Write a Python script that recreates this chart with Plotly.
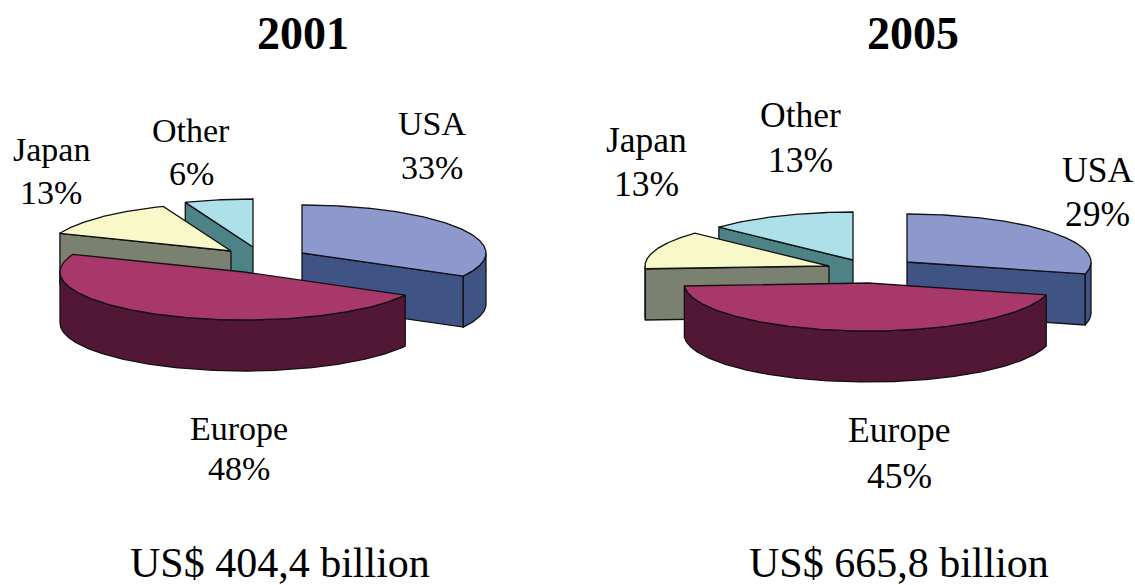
import numpy as np
import plotly.graph_objects as go

# ---- data ----
categories = ["USA", "Europe", "Japan", "Other"]
years = ["2001", "2005"]
shares_2001 = [33, 48, 13, 6]
shares_2005 = [29, 45, 13, 13]
totals = ["US$ 404,4 billion", "US$ 665,8 billion"]

# ---- styling / layout ----
TOP = {"USA": "#8D98CC", "Europe": "#A9386A", "Japan": "#F8F8C8", "Other": "#AEE0EA"}
SIDE = {"USA": "#3F5385", "Europe": "#521734", "Japan": "#7A8170", "Other": "#4D8287"}
DRAW_ORDER = ["Other", "Japan", "USA", "Europe"]
RX, RY, DEPTH = 184, 48, 51
OUTLINE = "#111111"
FONT = "Liberation Serif"

# exploded slice tips, in plot units
TIPS = [
    {"USA": (302, 253), "Europe": (244, 272), "Japan": (231, 251), "Other": (253, 247)},
    {"USA": (907, 262), "Europe": (868, 283), "Japan": (829, 266), "Other": (853, 260)},
]
LABEL_POS = [
    {"USA": (432, 123, 167), "Europe": (239, 428, 468), "Japan": (51, 149, 192), "Other": (191, 130, 173)},
    {"USA": (1097, 170, 214), "Europe": (899, 430, 476), "Japan": (646, 140, 184), "Other": (800, 115, 160)},
]
TITLE_POS = [(303, 33), (913, 33)]
TOTAL_POS = [(280, 563), (899, 563)]
LABEL_SIZE = [34, 35.5]


def rim(tip, a0, a1, dz=0.0):
    t = np.radians(np.linspace(a0, a1, max(2, int(abs(a1 - a0) * 2))))
    return tip[0] + RX * np.sin(t), tip[1] - RY * np.cos(t) + dz


def poly(fig, x, y, color):
    fig.add_trace(go.Scatter(
        x=np.r_[x, x[0]], y=np.r_[y, y[0]], mode="lines", fill="toself",
        fillcolor=color, line=dict(color=OUTLINE, width=1.3, shape="linear"),
        hoverinfo="skip", showlegend=False))


def cut_face(fig, tip, angle, color):
    ex, ey = rim(tip, angle, angle)
    ex, ey = ex[0], ey[0]
    poly(fig, np.array([tip[0], ex, ex, tip[0]]),
         np.array([tip[1], ey, ey + DEPTH, tip[1] + DEPTH]), color)


def draw_slice(fig, name, tip, a0, a1):
    side = SIDE[name]
    # only the cut faces that look toward the viewer
    if np.sin(np.radians(a0)) < -1e-6:
        cut_face(fig, tip, a0, side)
    if np.sin(np.radians(a1)) > 1e-6:
        cut_face(fig, tip, a1, side)
    # visible part of the outer wall
    lo, hi = max(a0, 90), min(a1, 270)
    if hi > lo:
        x, y = rim(tip, lo, hi)
        poly(fig, np.r_[x, x[::-1]], np.r_[y, y[::-1] + DEPTH], side)
    # top face
    x, y = rim(tip, a0, a1)
    poly(fig, np.r_[tip[0], x], np.r_[tip[1], y], TOP[name])


fig = go.Figure()
annotations = []


def text(x, y, s, size, bold=False):
    annotations.append(dict(
        x=x, y=y, xref="x", yref="y", text=f"<b>{s}</b>" if bold else s, showarrow=False,
        xanchor="center", yanchor="middle", font=dict(family=FONT, size=size, color="black")))


for i, shares in enumerate([shares_2001, shares_2005]):
    edges = np.r_[0, np.cumsum(shares)] * 3.6
    span = {c: (edges[k], edges[k + 1]) for k, c in enumerate(categories)}
    for name in DRAW_ORDER:
        draw_slice(fig, name, TIPS[i][name], *span[name])
    for k, name in enumerate(categories):
        lx, ly1, ly2 = LABEL_POS[i][name]
        text(lx, ly1, name, LABEL_SIZE[i])
        text(lx, ly2, f"{shares[k]}%", LABEL_SIZE[i])
    text(*TITLE_POS[i], years[i], 46, bold=True)
    text(*TOTAL_POS[i], totals[i], 42)

fig.update_layout(
    width=1135, height=585, margin=dict(l=0, r=0, t=0, b=0),
    paper_bgcolor="white", plot_bgcolor="white", annotations=annotations,
    xaxis=dict(range=[0, 1135], visible=False, fixedrange=True),
    yaxis=dict(range=[585, 0], visible=False, fixedrange=True),
)
fig.write_html("out.html", config={"displayModeBar": False},
               post_script="document.body.style.margin='0';")
